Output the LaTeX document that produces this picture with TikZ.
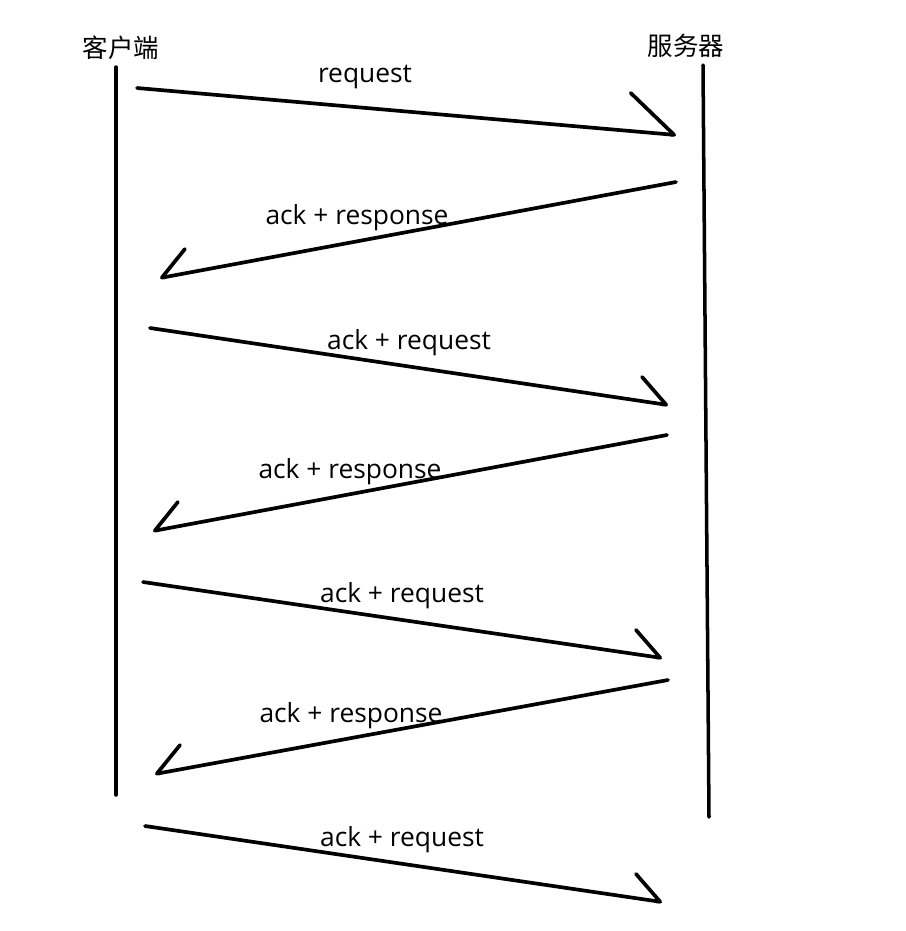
\documentclass[tikz,border=0pt]{standalone}
\usepackage{fontspec}
\setmainfont{Open Sans}
\newfontfamily\cjk{Noto Sans CJK SC}
\usetikzlibrary{positioning,arrows.meta}
\tikzset{
  lifeline/.style = {line width=2pt, line cap=round, draw=black},
  msg/.style      = {-{Straight Barb[harpoon, round, length=5.6mm, width=9.6mm]},
                     line width=2.1pt, line cap=round},
  msgback/.style  = {-{Straight Barb[harpoon, swap, round, length=5.6mm, width=9.6mm]},
                     line width=2.1pt, line cap=round},
  msgbig/.style   = {-{Straight Barb[harpoon, round, length=9.4mm, width=15.2mm]},
                     line width=2.1pt, line cap=round},
  lbl/.style      = {font=\fontsize{15}{18}\selectfont, inner sep=0pt},
  party/.style    = {font=\cjk\fontsize{14.5}{17}\selectfont, inner sep=0pt},
}
\begin{document}
\begin{tikzpicture}[x=0.02cm, y=-0.02cm]
  \useasboundingbox (0,0) rectangle (906,931);

  % the two parties
  \node[party] (client) at (121,48) {客户端};
  \node[party] (server) at (686,46) {服务器};
  \coordinate (ctop) at (116,67);
  \coordinate (cbot) at (116,795);
  \coordinate (stop) at (703,65);
  \coordinate (sbot) at (709,817);
  \draw[lifeline] (ctop) -- (cbot);
  \draw[lifeline] (stop) -- (sbot);

  % message ends
  \coordinate (m1a) at (137,88);  \coordinate (m1b) at (676,135);
  \coordinate (m2a) at (676,182); \coordinate (m2b) at (160,278);
  \coordinate (m3a) at (150,328); \coordinate (m3b) at (668,405);
  \coordinate (m4a) at (667,435); \coordinate (m4b) at (153,531);
  \coordinate (m5a) at (143,582); \coordinate (m5b) at (662,658);
  \coordinate (m6a) at (668,680); \coordinate (m6b) at (155,774);
  \coordinate (m7a) at (145,826); \coordinate (m7b) at (662,902);

  \draw[msgbig]  (m1a) -- (m1b);
  \draw[msgback] (m2a) -- (m2b);
  \draw[msg]     (m3a) -- (m3b);
  \draw[msgback] (m4a) -- (m4b);
  \draw[msg]     (m5a) -- (m5b);
  \draw[msgback] (m6a) -- (m6b);
  \draw[msg]     (m7a) -- (m7b);

  % labels
  \node[lbl] (l1) at (365,77)  {request};
  \node[lbl] (l2) at (357,218) {ack + response};
  \node[lbl] (l3) at (409,343) {ack + request};
  \node[lbl] (l4) at (350,472) {ack + response};
  \node[lbl] (l5) at (402,596) {ack + request};
  \node[lbl] (l6) at (351,716) {ack + response};
  \node[lbl] (l7) at (402,840) {ack + request};
\end{tikzpicture}
\end{document}
